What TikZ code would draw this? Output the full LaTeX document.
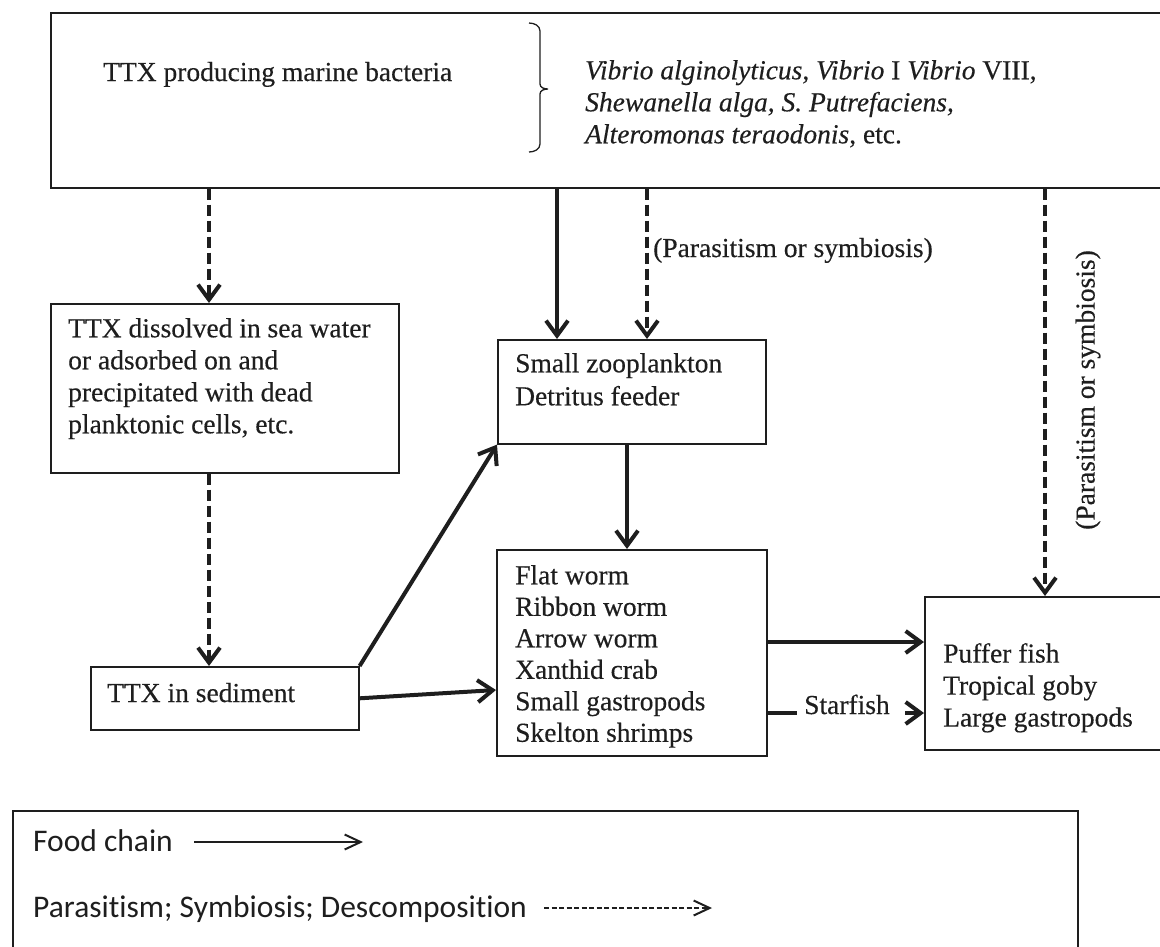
\documentclass[tikz,border=0pt]{standalone}
\usepackage{fontspec}
\setmainfont{Liberation Serif}[UprightFeatures={FakeBold=0.35},ItalicFeatures={FakeBold=0.35}]
\newfontfamily\legendfont{Carlito}[Ligatures=CommonOff]
\usetikzlibrary{arrows.meta}
\definecolor{ink}{HTML}{1E1E1E}
\begin{document}
\begin{tikzpicture}[x=1pt,y=-1pt,
  box/.style={draw=ink, line width=1.6pt, inner sep=0pt, anchor=north west},
  txt/.style={inner sep=0pt, text=ink, font=\fontsize{27.5}{32}\selectfont, align=left},
  legtxt/.style={inner sep=0pt, text=ink, font=\legendfont\fontsize{31.5}{36}\selectfont},
  food/.style={draw=ink, line width=4pt, -{Straight Barb[length=15pt,width=22pt]}},
  para/.style={food, dash pattern=on 11pt off 5pt},
  plain/.style={draw=ink, line width=4pt},
  legfood/.style={draw=ink, line width=2pt, -{Straight Barb[length=16pt,width=15pt]}},
  legpara/.style={legfood, dash pattern=on 5pt off 2.5pt}]
\useasboundingbox (0,0) rectangle (1160,946);

% boxes
\node[box, minimum width=1115pt, minimum height=175pt] (top) at (50,12) {};
\node[box, minimum width=348pt, minimum height=169pt] (diss) at (50,303) {};
\node[box, minimum width=268pt, minimum height=104pt] (zoo) at (497,339) {};
\node[box, minimum width=270pt, minimum height=206pt] (flat) at (496,549) {};
\node[box, minimum width=268pt, minimum height=63pt] (sed) at (90,666) {};
\node[box, minimum width=241pt, minimum height=153pt] (puf) at (924,596) {};
\node[box, minimum width=1065pt, minimum height=200pt] (leg) at (12,810) {};

% texts
\node[txt, anchor=base west] (bact) at (103,81) {TTX producing marine bacteria};
\node[txt, anchor=north west] (spec) at (585,60) {\textit{Vibrio alginolyticus, Vibrio} I \textit{Vibrio} VIII,\\
\textit{Shewanella alga, S. Putrefaciens,}\\
\textit{Alteromonas teraodonis}, etc.};
\node[txt, anchor=north west] (disst) at (68,318) {TTX dissolved in sea water\\or adsorbed on and\\precipitated with dead\\planktonic cells, etc.};
\node[txt, anchor=north west, font=\fontsize{27.5}{33}\selectfont] (zoot) at (515,353) {Small zooplankton\\Detritus feeder};
\node[txt, anchor=north west, font=\fontsize{27.5}{31.5}\selectfont] (flatt) at (515,565) {Flat worm\\Ribbon worm\\Arrow worm\\Xanthid crab\\Small gastropods\\Skelton shrimps};
\node[txt, anchor=base west] (sedt) at (107,702) {TTX in sediment};
\node[txt, anchor=north west] (puft) at (943,643) {Puffer fish\\Tropical goby\\Large gastropods};
\node[txt, anchor=base west] (lab1) at (653,257) {(Parasitism or symbiosis)};
\node[txt, rotate=90] (lab2) at (1088,390) {(Parasitism or symbiosis)};
\node[txt, anchor=base west] (star) at (804,714) {Starfish};
\node[legtxt, anchor=base west] (lf) at (33,851) {Food chain};
\node[legtxt, anchor=base west] (lp) at (33,917) {Parasitism; Symbiosis; Descomposition};

% brace
\draw[ink, line width=1.3pt] (529,23) to[out=0,in=90] (540,31) -- (540,84)
  to[out=-90,in=180] (548,89) to[out=180,in=90] (540,94) -- (540,144)
  to[out=-90,in=0] (529,152);

% helper coordinates
\coordinate (xA) at (209,0);
\coordinate (xB) at (557,0);
\coordinate (xC) at (647,0);
\coordinate (xD) at (1045,0);
\coordinate (xE) at (627,0);
\coordinate (yF) at (0,642);
\coordinate (yS) at (0,713);
\coordinate (yG) at (0,690);
\coordinate (s1) at (797,713);
\coordinate (s2) at (905,713);

% connectors
\draw[para] (xA |- top.south) -- (xA |- diss.north);
\draw[food] (xB |- top.south) -- (xB |- zoo.north);
\draw[para] (xC |- top.south) -- (xC |- zoo.north);
\draw[para] (xD |- top.south) -- (xD |- puf.north);
\draw[para] (xA |- diss.south) -- (xA |- sed.north);
\draw[food] (xE |- zoo.south) -- (xE |- flat.north);
\draw[food] (sed.north east) -- (zoo.south west);
\draw[food] (sed.east) -- (flat.west |- yG);
\draw[food] (flat.east |- yF) -- (puf.west |- yF);
\draw[plain] (flat.east |- yS) -- (s1);
\draw[food] (s2) -- (puf.west |- yS);

% legend arrows
\coordinate (la1) at (194,842);
\coordinate (la2) at (363,842);
\coordinate (lb1) at (544,908);
\coordinate (lb2) at (712,908);
\draw[legfood] (la1) -- (la2);
\draw[legpara] (lb1) -- (lb2);
\end{tikzpicture}
\end{document}
